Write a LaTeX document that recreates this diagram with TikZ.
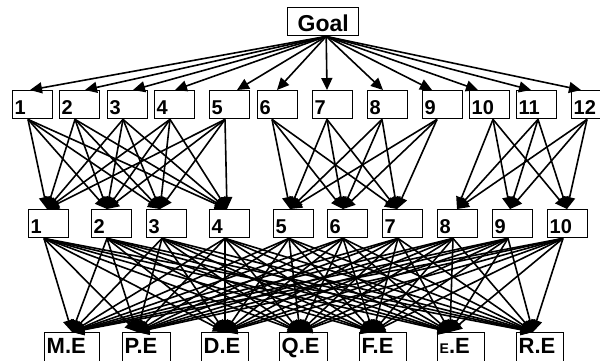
\documentclass[tikz,border=0pt]{standalone}
\usepackage{fontspec}
\setmainfont{Liberation Sans}
\usetikzlibrary{arrows.meta}
\newcommand{\lowlbl}[1]{\raisebox{-2.5pt}[14pt][0pt]{#1}}
\newcommand{\altlbl}[1]{\raisebox{1pt}[14pt][0pt]{#1}}
\begin{document}
\begin{tikzpicture}[x=1pt,y=-1pt,
  bx/.style={draw=black, line width=1.4pt, inner xsep=2pt, inner ysep=0pt,
    anchor=north west, text width=#1, minimum height=28pt, align=left,
    font=\fontsize{20}{20}\selectfont\bfseries},
  alt/.style={bx=#1, minimum height=30pt, font=\fontsize{22}{22}\selectfont\bfseries},
  goalbox/.style={draw=black, line width=1.4pt, inner sep=0pt, anchor=north west,
    minimum width=71pt, minimum height=28pt, font=\fontsize{23}{23}\selectfont\bfseries},
  arr/.style={line width=1.6pt, -{Triangle[length=12pt,width=11pt]}}]
\fill[white] (0,0) rectangle (600,360);
\useasboundingbox (0,0) rectangle (600,360);
% goal
\node[goalbox] (goal) at (287,7) {\lowlbl{Goal}};
\coordinate (gs) at ([xshift=3pt]goal.south);
% level 1 criteria
\foreach \i/\x in {1/12,2/59,3/107,4/154,5/209,6/257,7/312,8/367,9/422,10/469,11/516,12/571}
  \node[bx=36pt] (a\i) at (\x,90) {\lowlbl{\i}};
% level 2
\foreach \i/\x in {1/28,2/91,3/146,4/209,5/273,6/327,7/382,8/437,9/492,10/547}
  \node[bx=36pt] (b\i) at (\x,209) {\lowlbl{\i}};
% level 3 alternatives
\node[alt=51pt] (c1) at (44,332) {\altlbl{M.E}};
\node[alt=44pt] (c2) at (122,332) {\altlbl{P.E}};
\node[alt=43pt] (c3) at (201,332) {\altlbl{D.E}};
\node[alt=44pt] (c4) at (279,332) {\altlbl{Q.E}};
\node[alt=43pt] (c5) at (359,332) {\altlbl{F.E}};
\node[alt=43pt] (c6) at (437,332) {\altlbl{{\fontsize{14}{14}\selectfont E}.E}};
\node[alt=43pt] (c7) at (516,332) {\altlbl{R.E}};
% anchor points
\foreach \i/\o in {1/18,2/26,3/26,4/21,5/28,6/20,7/15,8/16,9/10,10/9,11/15,12/10}
  \coordinate (at\i) at ([xshift=\o pt]a\i.north west);
\foreach \i/\o in {1/16,2/16,3/16,4/16,5/16,6/15,7/15,8/15,9/15,10/24,11/22,12/16}
  \coordinate (as\i) at ([xshift=\o pt]a\i.south west);
\foreach \i/\o in {1/19,2/16,3/14,4/18,5/17,6/16,7/15,8/20,9/18,10/20}
  \coordinate (bt\i) at ([xshift=\o pt]b\i.north west);
\foreach \i in {1,...,10}
  \coordinate (bs\i) at ([xshift=16pt]b\i.south west);
\foreach \i/\o in {1/28,2/15,3/24,4/21,5/14,6/13,7/17}
  \coordinate (ct\i) at ([xshift=\o pt]c\i.north west);
% goal -> level 1
\foreach \i in {1,...,12}
  \draw[arr] (gs) -- (at\i);
% level 1 -> level 2
\foreach \i in {1,...,5} \foreach \j in {1,...,4}
  \draw[arr] (as\i) -- (bt\j);
\foreach \i in {6,...,9} \foreach \j in {5,6,7}
  \draw[arr] (as\i) -- (bt\j);
\foreach \i in {10,11,12} \foreach \j in {8,9,10}
  \draw[arr] (as\i) -- (bt\j);
% level 2 -> level 3
\foreach \i in {1,...,10} \foreach \k in {1,...,7}
  \draw[arr] (bs\i) -- (ct\k);
\end{tikzpicture}
\end{document}
